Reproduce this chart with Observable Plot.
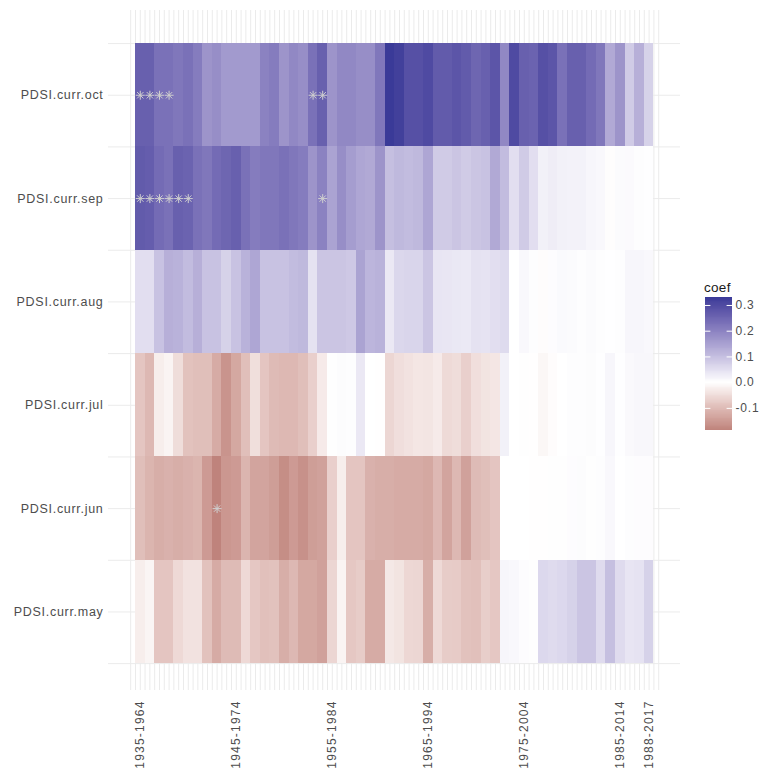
<!DOCTYPE html>
<html><head><meta charset="utf-8">
<script src="https://cdn.jsdelivr.net/npm/d3@7"></script>
<script src="https://cdn.jsdelivr.net/npm/@observablehq/plot@0.6"></script>
<style>
body{margin:0;background:#fff;font-family:"Liberation Sans",Arial,sans-serif;}
#wrap{position:relative;width:760px;height:772px;background:#fff;overflow:hidden;}
#wrap svg{display:block;}
#legend{position:absolute;left:695px;top:270px;width:70px;height:175px;}
#legend svg{max-width:none !important;width:70px;height:175px;}
#ltitle{position:absolute;left:704px;top:281px;font-size:13.5px;line-height:1;color:#1a1a1a;letter-spacing:0.3px;}
.mainplot [aria-label="x-axis tick label"]{letter-spacing:1.2px;}
.mainplot [aria-label="y-axis tick label"]{letter-spacing:0.7px;}
.legplot text{letter-spacing:0.8px;}
</style></head><body><div id="wrap"><div id="ltitle">coef</div><div id="legend"></div></div>
<script>
// moving 30-year windows
const startYears = d3.range(1935, 1989);
const windows = startYears.map(y => `${y}-${y + 29}`);
const tickWindows = ["1935-1964","1945-1974","1955-1984","1965-1994","1975-2004","1985-2014","1988-2017"];
const months = ["PDSI.curr.oct","PDSI.curr.sep","PDSI.curr.aug","PDSI.curr.jul","PDSI.curr.jun","PDSI.curr.may"];

const oct = [0.26,0.26,0.23,0.23,0.22,0.23,0.21,0.17,0.18,0.16,0.16,0.16,0.16,0.20,0.21,0.17,0.19,0.18,0.23,0.26,0.17,0.19,0.19,0.18,0.18,0.22,0.331,0.32,0.29,0.29,0.30,0.27,0.27,0.28,0.27,0.25,0.26,0.28,0.19,0.30,0.26,0.255,0.29,0.28,0.23,0.26,0.26,0.24,0.22,0.135,0.17,0.08,0.125,0.07];
const sep = [0.27,0.265,0.24,0.23,0.26,0.255,0.23,0.22,0.24,0.25,0.26,0.23,0.21,0.22,0.22,0.23,0.22,0.21,0.17,0.20,0.145,0.18,0.155,0.14,0.135,0.17,0.10,0.11,0.105,0.11,0.14,0.08,0.08,0.09,0.08,0.09,0.095,0.135,0.105,0.05,0.08,0.05,0.022,0.028,0.022,0.02,0.02,0.013,0.011,-0.003,0.006,0.007,0.003,0.001];
const aug = [0.05,0.05,0.095,0.125,0.12,0.105,0.125,0.095,0.095,0.07,0.095,0.12,0.14,0.095,0.095,0.095,0.105,0.11,0.045,0.09,0.09,0.09,0.085,0.145,0.115,0.12,0.035,0.062,0.065,0.065,0.09,0.04,0.038,0.036,0.034,0.045,0.043,0.05,0.056,0.0,0.011,0.003,-0.004,0.004,0.008,0.006,0.003,0.006,0.003,0.001,0.003,0.013,0.014,0.011];
const jul = [-0.085,-0.105,-0.025,-0.016,-0.05,-0.09,-0.095,-0.095,-0.125,-0.16,-0.13,-0.095,-0.047,-0.085,-0.1,-0.105,-0.105,-0.095,-0.07,-0.03,0.002,0.005,0.003,0.035,0.0,-0.001,-0.06,-0.048,-0.042,-0.036,-0.038,-0.03,-0.054,-0.05,-0.07,-0.048,-0.04,-0.036,0.022,0.0,-0.002,-0.001,-0.012,-0.004,0.0,0.003,0.003,0.005,0.001,0.013,0.001,0.009,0.012,0.012];
const jun = [-0.095,-0.11,-0.12,-0.115,-0.12,-0.115,-0.11,-0.15,-0.186,-0.155,-0.15,-0.11,-0.135,-0.135,-0.145,-0.17,-0.15,-0.165,-0.145,-0.14,-0.07,-0.025,-0.085,-0.085,-0.115,-0.12,-0.12,-0.125,-0.125,-0.125,-0.13,-0.105,-0.135,-0.105,-0.14,-0.1,-0.095,-0.085,0.0,0.0,0.0,-0.001,-0.001,-0.002,0.002,0.004,0.005,-0.002,0.003,0.011,0.0,0.003,0.004,0.004];
const may = [-0.025,-0.015,-0.085,-0.085,-0.055,-0.042,-0.042,-0.09,-0.125,-0.1,-0.1,-0.055,-0.082,-0.093,-0.09,-0.12,-0.105,-0.13,-0.13,-0.14,-0.06,-0.016,-0.082,-0.075,-0.125,-0.125,-0.034,-0.04,-0.058,-0.06,-0.12,-0.055,-0.075,-0.076,-0.09,-0.093,-0.072,-0.082,0.014,0.01,0.004,0.002,0.06,0.055,0.06,0.07,0.09,0.09,0.055,0.1,0.055,0.04,0.043,0.07];

// significance markers
const sigMonths  = ["PDSI.curr.oct","PDSI.curr.oct","PDSI.curr.oct","PDSI.curr.oct","PDSI.curr.oct","PDSI.curr.oct",
                    "PDSI.curr.sep","PDSI.curr.sep","PDSI.curr.sep","PDSI.curr.sep","PDSI.curr.sep","PDSI.curr.sep","PDSI.curr.sep",
                    "PDSI.curr.jun"];
const sigWindows = ["1935-1964","1936-1965","1937-1966","1938-1967","1953-1982","1954-1983",
                    "1935-1964","1936-1965","1937-1966","1938-1967","1939-1968","1940-1969","1954-1983",
                    "1943-1972"];
const legendTicks = [-0.1, 0.0, 0.1, 0.2, 0.3];

const series = [oct, sep, aug, jul, jun, may];
const cells = [];
months.forEach((m, r) => series[r].forEach((v, c) => cells.push({month: m, row: r, col: c + 1, coef: v})));
const stars = sigMonths.map((m, i) => ({row: months.indexOf(m), col: windows.indexOf(sigWindows[i]) + 1}));

const lmin = d3.min(cells, d => d.coef), lmax = d3.max(cells, d => d.coef);
const M = Math.max(Math.abs(lmin), Math.abs(lmax));
const colorScale = {type: "linear", domain: [-M, 0, M], range: ["#832424", "#ffffff", "#3A3A98"], interpolate: "lab"};

const star8 = {draw(ctx, size) {
  const r = Math.sqrt(size / Math.PI), d = r * Math.SQRT1_2;
  ctx.moveTo(-r, 0); ctx.lineTo(r, 0);
  ctx.moveTo(0, -r); ctx.lineTo(0, r);
  ctx.moveTo(-d, -d); ctx.lineTo(d, d);
  ctx.moveTo(-d, d); ctx.lineTo(d, -d);
}};

const main = Plot.plot({
  width: 760, height: 772,
  marginLeft: 108, marginRight: 80, marginTop: 10, marginBottom: 82,
  className: "mainplot",
  style: {fontFamily: '"Liberation Sans", Arial, sans-serif', background: "#fff"},
  x: {domain: [-2.31, 57.27], axis: null},
  y: {domain: [5.76, -0.82], axis: null},
  color: colorScale,
  marks: [
    Plot.ruleY(d3.range(-0.5, 5.51, 0.5), {stroke: "#ebebeb", strokeWidth: 1}),
    Plot.ruleX(d3.range(0, 55.01, 0.5), {stroke: "#ebebeb", strokeWidth: 1}),
    Plot.rect(cells, {x1: d => d.col - 0.5, x2: d => d.col + 0.5, y1: d => d.row - 0.5, y2: d => d.row + 0.5, fill: "coef", shapeRendering: "crispEdges"}),
    Plot.dot(stars, {x: "col", y: "row", symbol: star8, r: 4.5, fill: "none", stroke: "#cfcfcf", strokeWidth: 1}),
    Plot.axisX(tickWindows.map(w => windows.indexOf(w) + 1), {
      tickFormat: i => windows[i - 1], tickRotate: -90, tickSize: 0, tickPadding: 12,
      fontSize: 12, fill: "#4d4d4d", label: null, dy: -2
    }),
    Plot.axisY(d3.range(months.length), {
      tickFormat: i => months[i], tickSize: 0, tickPadding: 5, fontSize: 12.5, fill: "#4d4d4d", label: null
    })
  ]
});
document.getElementById("wrap").prepend(main);

const nSteps = 150;
const steps = d3.range(nSteps).map(i => {
  const a = lmin + i * (lmax - lmin) / nSteps, b = lmin + (i + 1) * (lmax - lmin) / nSteps;
  return {y1: a, y2: b, v: (a + b) / 2};
});
const fmt = d => d3.format(".1f")(d).replace("\u2212", "-");
const leg = Plot.plot({
  width: 70, height: 175,
  marginTop: 27, marginBottom: 15, marginLeft: 10, marginRight: 33,
  className: "legplot",
  style: {fontFamily: '"Liberation Sans", Arial, sans-serif', background: "transparent", overflow: "visible"},
  x: {domain: [0, 1], axis: null},
  y: {domain: [lmin, lmax], axis: null},
  color: colorScale,
  marks: [
    Plot.rect(steps, {x1: 0, x2: 1, y1: "y1", y2: "y2", fill: "v", shapeRendering: "crispEdges"}),
    Plot.ruleY(legendTicks, {x1: 0, x2: 0.2, stroke: "white", strokeWidth: 1}),
    Plot.ruleY(legendTicks, {x1: 0.8, x2: 1, stroke: "white", strokeWidth: 1}),
    Plot.text(legendTicks, {x: 1, y: d => d, dx: 3, textAnchor: "start", text: fmt, fontSize: 12, fill: "#4d4d4d"})
  ]
});
document.getElementById("legend").appendChild(leg);
</script></body></html>
